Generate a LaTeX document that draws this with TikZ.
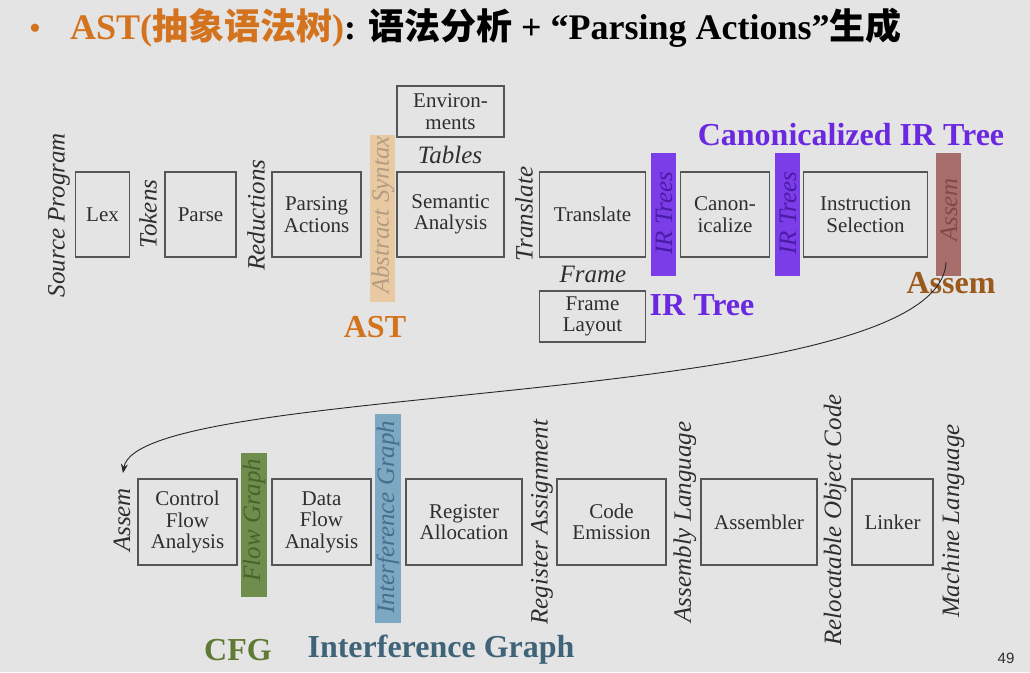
\documentclass[tikz,border=0pt]{standalone}
\usepackage{fontspec}
\setmainfont{Liberation Serif}
\newfontfamily\cjk{Noto Sans CJK SC}
\newfontfamily\numfont{Liberation Sans}
\usetikzlibrary{arrows.meta}
\definecolor{bg}{HTML}{E4E4E4}
\definecolor{boxline}{HTML}{555555}
\definecolor{boxtext}{HTML}{2E2E2E}
\definecolor{astorange}{HTML}{D4731E}
\definecolor{irpurple}{HTML}{6A28E0}
\definecolor{irbar}{HTML}{7B3DE8}
\definecolor{irbartext}{HTML}{4A1AA8}
\definecolor{assembar}{HTML}{A86E6C}
\definecolor{assembartext}{HTML}{7E4A48}
\definecolor{assembrown}{HTML}{9A5A1C}
\definecolor{absbar}{HTML}{E8C9A2}
\definecolor{absbartext}{HTML}{B49C82}
\definecolor{flowbar}{HTML}{6F8D4C}
\definecolor{flowbartext}{HTML}{46652A}
\definecolor{cfggreen}{HTML}{5F7A33}
\definecolor{intbar}{HTML}{7CA8C2}
\definecolor{intbartext}{HTML}{456F8C}
\definecolor{intblue}{HTML}{3F6479}
\begin{document}
\begin{tikzpicture}[x=1pt,y=-1pt,
  box/.style={draw=boxline, line width=1.1pt, inner sep=0pt, align=center,
    text=boxtext, font=\fontsize{21}{21.5}\selectfont},
  vlabel/.style={rotate=90, inner sep=0pt, text=boxtext, font=\fontsize{25}{25}\selectfont\itshape},
  hlabel/.style={inner sep=0pt, text=boxtext, font=\fontsize{25}{25}\selectfont\itshape},
  bartext/.style={rotate=90, inner sep=0pt, font=\fontsize{25}{25}\selectfont\itshape},
  bigbold/.style={inner sep=0pt, font=\fontsize{32}{32}\selectfont\bfseries},
  conn/.style={draw=black!85, line width=0.9pt, -{Stealth[length=9pt,width=7pt]}}
]
\fill[bg] (0,0) rectangle (1030,672);
\useasboundingbox (0,0) rectangle (1030,672);

% title
\node[anchor=base west, inner sep=0pt, text=astorange, font=\fontsize{34}{34}\selectfont] (bullet) at (29,39) {\textbullet};
\node[anchor=base west, inner sep=0pt, font=\fontsize{36}{36}\selectfont\bfseries] (title) at (70,39)
  {\textcolor{astorange}{AST({\cjk\bfseries 抽象语法树})}: {\cjk\bfseries 语法分析} + “Parsing Actions”{\cjk\bfseries 生成}};

% colored bars (drawn first)
\fill[absbar] (370,135) rectangle (395,302);
\fill[irbar] (651,153) rectangle (676,276);
\fill[irbar] (775,153) rectangle (800,276);
\fill[assembar] (936,153) rectangle (961,276);
\fill[flowbar] (241,453) rectangle (267,597);
\fill[intbar] (375,414) rectangle (401,623);

% row 1 boxes
\node[box, minimum width=54pt, minimum height=85pt] (lex) at (102.5,214.5) {Lex};
\node[box, minimum width=71pt, minimum height=85pt] (parse) at (200.5,214.5) {Parse};
\node[box, minimum width=89pt, minimum height=85pt] (pact) at (316.5,214.5) {Parsing\\Actions};
\node[box, minimum width=107pt, minimum height=85pt] (sem) at (450.5,214.5) {Semantic\\Analysis};
\node[box, minimum width=107pt, minimum height=51pt] (env) at (450.5,111.5) {Environ-\\ments};
\node[box, minimum width=106pt, minimum height=85pt] (trans) at (592.5,214.5) {Translate};
\node[box, minimum width=106pt, minimum height=51pt] (frame) at (592.5,316.5) {Frame\\Layout};
\node[box, minimum width=89pt, minimum height=85pt] (canon) at (725,214.5) {Canon-\\icalize};
\node[box, minimum width=124pt, minimum height=85pt] (isel) at (865.5,214.5) {Instruction\\Selection};

% row 1 labels
\node[vlabel] (srcprog) at (59,215) {Source Program};
\node[vlabel] (tokens) at (148,214) {Tokens};
\node[vlabel] (reductions) at (256,215) {Reductions};
\node[bartext, text=absbartext] (abssyn) at (383,215) {Abstract Syntax};
\node[hlabel] (tables) at (450,155) {Tables};
\node[vlabel] (translbl) at (524,214) {Translate};
\node[hlabel] (framelbl) at (593,274) {Frame};
\node[bartext, text=irbartext] (irt1) at (664,213) {IR Trees};
\node[bartext, text=irbartext] (irt2) at (788,213) {IR Trees};
\node[bartext, text=assembartext] (asmbar) at (949,210) {Assem};

\node[bigbold, text=irpurple] (canonir) at (851,135) {Canonicalized IR Tree};
\node[bigbold, text=irpurple] (irtree) at (702,305) {IR Tree};
\node[bigbold, text=astorange] (astlbl) at (375,327) {AST};
\node[bigbold, text=assembrown] (assemlbl) at (951,283) {Assem};

% row 2 boxes
\node[box, minimum width=99pt, minimum height=86pt] (cfa) at (187.5,522) {Control\\Flow\\Analysis};
\node[box, minimum width=99pt, minimum height=86pt] (dfa) at (321.5,522) {Data\\Flow\\Analysis};
\node[box, minimum width=116pt, minimum height=86pt] (ralloc) at (464,522) {Register\\Allocation};
\node[box, minimum width=109pt, minimum height=86pt] (cemit) at (611.5,522) {Code\\Emission};
\node[box, minimum width=116pt, minimum height=86pt] (asmblr) at (759,522) {Assembler};
\node[box, minimum width=81pt, minimum height=86pt] (linker) at (892.5,522) {Linker};

% row 2 labels
\node[vlabel] (assem2) at (122,520) {Assem};
\node[bartext, text=flowbartext] (flowg) at (254,520) {Flow Graph};
\node[bartext, text=intbartext] (intg) at (388,517) {Interference Graph};
\node[vlabel] (regassign) at (542,522) {Register Assignment};
\node[vlabel] (asmlang) at (685,522) {Assembly Language};
\node[vlabel] (reloc) at (835,520) {Relocatable Object Code};
\node[vlabel] (machlang) at (953,521) {Machine Language};

\node[bigbold, text=cfggreen] (cfg) at (238,650) {CFG};
\node[bigbold, text=intblue] (intgraph) at (441,650) {Interference Graph};

\node[inner sep=0pt, text=boxtext, font=\numfont\fontsize{15}{15}\selectfont] (pagenum) at (1006,658) {49};

% connector
\coordinate (cstart) at (946,262);
\coordinate (cend) at (123,473);
\draw[conn] (cstart) .. controls (940,410) and (138,380) .. (cend);
\end{tikzpicture}
\end{document}
